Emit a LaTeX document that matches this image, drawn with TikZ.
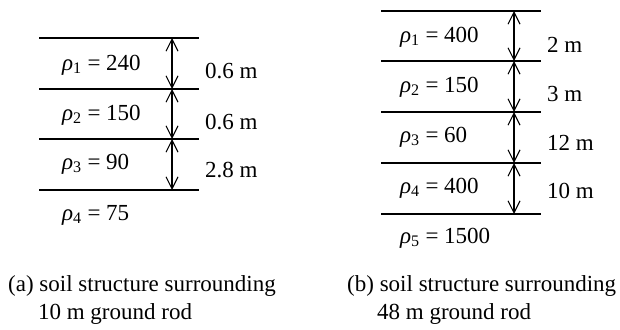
\documentclass[tikz,border=0pt]{standalone}
\usepackage{fontspec}
\setmainfont{Liberation Serif}
\usetikzlibrary{arrows.meta}
\begin{document}
\begin{tikzpicture}[x=1pt,y=-1pt,
  layer/.style={line width=1.2pt},
  dim/.style={line width=1.1pt,{Straight Barb[length=12pt,width=12pt,line width=1.1pt]}-{Straight Barb[length=12pt,width=12pt,line width=1.1pt]}},
  lbl/.style={anchor=west,inner sep=0pt,font=\fontsize{23}{26}\selectfont},
  captext/.style={anchor=north west,inner sep=0pt,align=left,font=\fontsize{23}{28}\selectfont}]
\useasboundingbox (0,0) rectangle (620,329);
% panel (a)
\foreach \i/\y in {0/38,1/89,2/139,3/190}{
  \coordinate (aL\i) at (39,\y);
  \coordinate (aR\i) at (199,\y);
  \coordinate (aA\i) at (172,\y);
  \draw[layer] (aL\i) -- (aR\i);
}
\draw[dim] (aA0) -- (aA1);
\draw[dim] (aA1) -- (aA2);
\draw[dim] (aA2) -- (aA3);
\node[lbl] (ar1) at (62,65) {\textit{ρ}\textsubscript{1} = 240};
\node[lbl] (ar2) at (62,115) {\textit{ρ}\textsubscript{2} = 150};
\node[lbl] (ar3) at (62,164) {\textit{ρ}\textsubscript{3} = 90};
\node[lbl] (ar4) at (62,215) {\textit{ρ}\textsubscript{4} = 75};
\node[lbl] (ad1) at (205,71) {0.6 m};
\node[lbl] (ad2) at (205,122) {0.6 m};
\node[lbl] (ad3) at (205,170) {2.8 m};
% panel (b)
\foreach \i/\y in {0/11,1/61,2/112,3/163,4/214}{
  \coordinate (bL\i) at (381,\y);
  \coordinate (bR\i) at (541,\y);
  \coordinate (bA\i) at (514,\y);
  \draw[layer] (bL\i) -- (bR\i);
}
\draw[dim] (bA0) -- (bA1);
\draw[dim] (bA1) -- (bA2);
\draw[dim] (bA2) -- (bA3);
\draw[dim] (bA3) -- (bA4);
\node[lbl] (br1) at (400,37) {\textit{ρ}\textsubscript{1} = 400};
\node[lbl] (br2) at (400,87) {\textit{ρ}\textsubscript{2} = 150};
\node[lbl] (br3) at (400,137) {\textit{ρ}\textsubscript{3} = 60};
\node[lbl] (br4) at (400,188) {\textit{ρ}\textsubscript{4} = 400};
\node[lbl] (br5) at (400,238) {\textit{ρ}\textsubscript{5} = 1500};
\node[lbl] (bd1) at (547,45) {2 m};
\node[lbl] (bd2) at (547,94) {3 m};
\node[lbl] (bd3) at (547,143) {12 m};
\node[lbl] (bd4) at (547,191) {10 m};
% captions
\node[captext] (capa) at (8,275) {(a) soil structure surrounding\\\hspace{1.3em}10 m ground rod};
\node[captext] (capb) at (347,275) {(b) soil structure surrounding\\\hspace{1.3em}48 m ground rod};
\end{tikzpicture}
\end{document}
